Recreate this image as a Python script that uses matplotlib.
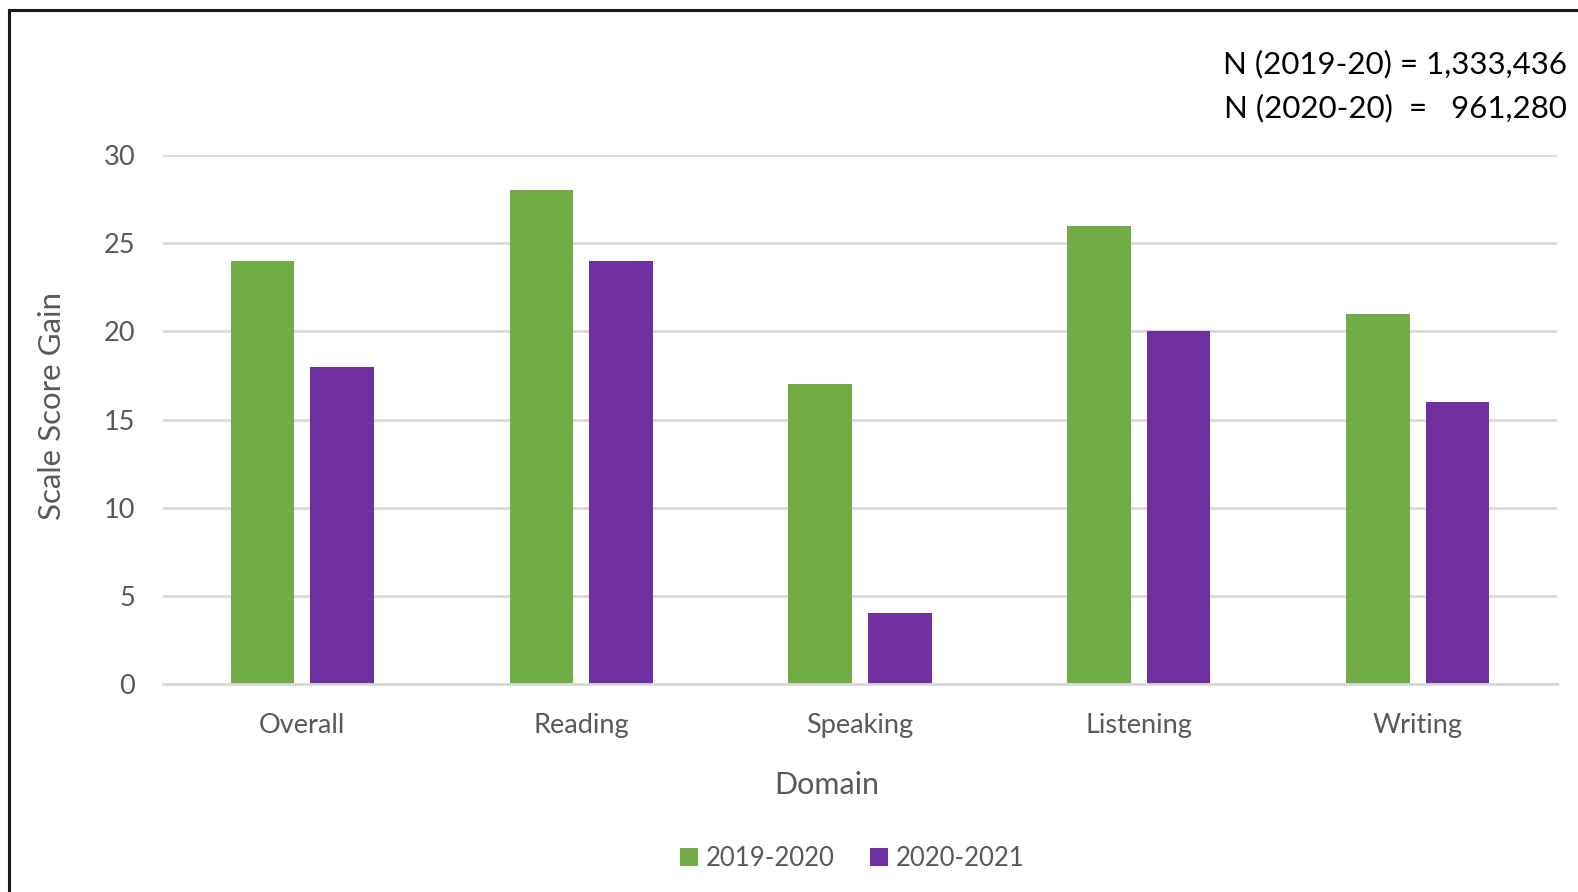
import matplotlib.pyplot as plt
from matplotlib.lines import Line2D
import numpy as np

plt.rcParams['font.family'] = ['Lato', 'DejaVu Sans']

domeny = ["Overall", "Reading", "Speaking", "Listening", "Writing"]
gain_2019 = [24, 28, 17, 26, 21]
gain_2020 = [18, 24, 4, 20, 16]
serie = ["2019-2020", "2020-2021"]
yticks = [0, 5, 10, 15, 20, 25, 30]

zielony = "#70AD47"
fiolet = "#7030A0"
szary = "#595959"
siatka = "#D9D9D9"

fig = plt.figure(figsize=(15.78, 8.92), dpi=100)
ax = fig.add_axes([0.1033, 0.2332, 0.8834, 0.593])

x = np.arange(len(domeny))
szer = 0.228
ax.bar(x - 0.143, gain_2019, szer, color=zielony, label=serie[0], zorder=3)
ax.bar(x + 0.143, gain_2020, szer, color=fiolet, label=serie[1], zorder=3)

ax.set_xlim(-0.5, len(domeny) - 0.5)
ax.set_ylim(0, 30)
ax.set_yticks(yticks)
ax.yaxis.grid(True, color=siatka, linewidth=2, zorder=0)
ax.set_axisbelow(True)

for s in ["top", "right", "left"]:
    ax.spines[s].set_visible(False)
ax.spines["bottom"].set_color(siatka)
ax.spines["bottom"].set_linewidth(2)
ax.spines["bottom"].set_zorder(4)

ax.set_xticks(x)
ax.set_xticklabels(domeny)
ax.tick_params(axis="both", length=0, labelsize=19.5, labelcolor=szary)
ax.tick_params(axis="x", pad=21)
ax.tick_params(axis="y", pad=20)

ax.set_xlabel("Domain", fontsize=22, color=szary, labelpad=24)
ax.xaxis.label.set_x(0.476)
fig.text(0.033, 0.545, "Scale Score Gain", rotation=90, fontsize=22.5,
         color=szary, ha="center", va="center")

fig.text(0.993, 0.928, "N (2019-20) = 1,333,436", fontsize=22.5,
         color="black", ha="right", va="center")
fig.text(0.993, 0.879, "N (2020-20)  =   961,280", fontsize=22.5,
         color="black", ha="right", va="center")

leg = fig.legend(loc="center", bbox_to_anchor=(0.54, 0.038), ncol=2,
                 frameon=False, fontsize=18.5, handlelength=0.7,
                 handleheight=0.7, handletextpad=0.3, columnspacing=1.4)
for t in leg.get_texts():
    t.set_color(szary)

# ramka z lewej i u gory
fig.add_artist(Line2D([0.006, 0.006], [0, 0.989], transform=fig.transFigure,
                      color="#1a1a1a", linewidth=2.2))
fig.add_artist(Line2D([0.006, 1], [0.989, 0.989], transform=fig.transFigure,
                      color="#1a1a1a", linewidth=2.2))

plt.savefig("out.png", format="png")
